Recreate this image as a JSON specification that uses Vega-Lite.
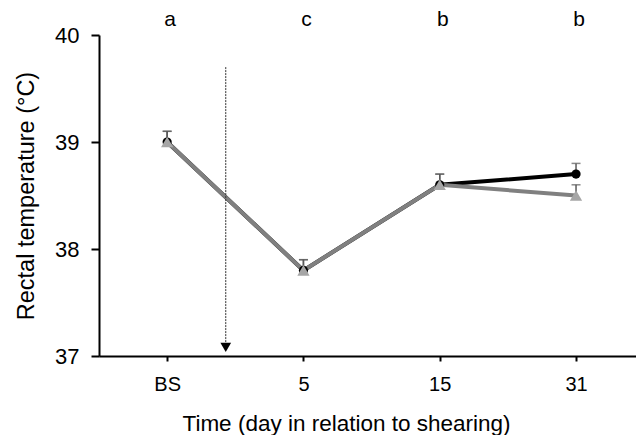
{
  "$schema": "https://vega.github.io/schema/vega-lite/v6.json",
  "width": 537,
  "height": 321,
  "autosize": {"type": "none"},
  "padding": {"left": 99, "top": 35, "right": 0, "bottom": 79},
  "background": "white",
  "config": {
    "view": {"stroke": null},
    "font": "Liberation Sans",
    "axis": {
      "grid": false,
      "domainColor": "black",
      "domainWidth": 2,
      "tickColor": "black",
      "tickWidth": 2,
      "labelColor": "black",
      "titleColor": "black",
      "labelFont": "Liberation Sans",
      "titleFont": "Liberation Sans",
      "labelFontSize": 20,
      "titleFontSize": 22,
      "titleFontWeight": "normal"
    }
  },
  "datasets": {
    "temps": [
      {"pos": 0, "time": "BS", "group": "Group 1", "temp": 39.0, "upper": 39.1},
      {"pos": 1, "time": "5", "group": "Group 1", "temp": 37.8, "upper": 37.9},
      {"pos": 2, "time": "15", "group": "Group 1", "temp": 38.6, "upper": 38.7},
      {"pos": 3, "time": "31", "group": "Group 1", "temp": 38.7, "upper": 38.8},
      {"pos": 0, "time": "BS", "group": "Group 2", "temp": 39.0, "upper": 39.1},
      {"pos": 1, "time": "5", "group": "Group 2", "temp": 37.8, "upper": 37.9},
      {"pos": 2, "time": "15", "group": "Group 2", "temp": 38.6, "upper": 38.7},
      {"pos": 3, "time": "31", "group": "Group 2", "temp": 38.5, "upper": 38.6}
    ],
    "letters": [
      {"pos": 0, "letter": "a"},
      {"pos": 1, "letter": "c"},
      {"pos": 2, "letter": "b"},
      {"pos": 3, "letter": "b"}
    ],
    "shearing": [
      {"pos": 0.43, "top": 39.7, "bottom": 37.08}
    ]
  },
  "layer": [
    {
      "data": {"name": "temps"},
      "mark": {"type": "rule", "color": "#595959", "strokeWidth": 1.5},
      "encoding": {
        "x": {
          "field": "pos", "type": "quantitative",
          "scale": {"domain": [-0.5, 3.44], "nice": false, "zero": false},
          "axis": {
            "values": [0, 1, 2, 3],
            "labelExpr": "['BS', '5', '15', '31'][datum.value]",
            "title": "Time (day in relation to shearing)",
            "titleFontSize": 22.5,
            "titleX": 247,
            "tickSize": 5,
            "labelPadding": 13,
            "titlePadding": 18
          }
        },
        "y": {
          "field": "temp", "type": "quantitative",
          "scale": {"domain": [37, 40], "nice": false, "zero": false},
          "axis": {
            "values": [37, 38, 39, 40],
            "format": "d",
            "labelFontSize": 22,
            "title": "Rectal temperature (°C)",
            "titleFontSize": 23.5,
            "tickSize": 8,
            "labelPadding": 12,
            "titlePadding": 16
          }
        },
        "y2": {"field": "upper"}
      }
    },
    {
      "data": {"name": "temps"},
      "mark": {"type": "tick", "orient": "horizontal", "color": "#595959", "thickness": 1.5, "size": 9},
      "encoding": {
        "x": {"field": "pos", "type": "quantitative", "scale": {"domain": [-0.5, 3.44], "nice": false, "zero": false}},
        "y": {"field": "upper", "type": "quantitative", "scale": {"domain": [37, 40], "nice": false, "zero": false}}
      }
    },
    {
      "data": {"name": "temps"},
      "transform": [{"filter": "datum.group === 'Group 1'"}],
      "mark": {"type": "line", "color": "black", "strokeWidth": 4},
      "encoding": {
        "x": {"field": "pos", "type": "quantitative", "scale": {"domain": [-0.5, 3.44], "nice": false, "zero": false}},
        "y": {"field": "temp", "type": "quantitative", "scale": {"domain": [37, 40], "nice": false, "zero": false}}
      }
    },
    {
      "data": {"name": "temps"},
      "transform": [{"filter": "datum.group === 'Group 2'"}],
      "mark": {"type": "line", "color": "#808080", "strokeWidth": 4},
      "encoding": {
        "x": {"field": "pos", "type": "quantitative", "scale": {"domain": [-0.5, 3.44], "nice": false, "zero": false}},
        "y": {"field": "temp", "type": "quantitative", "scale": {"domain": [37, 40], "nice": false, "zero": false}}
      }
    },
    {
      "data": {"name": "temps"},
      "transform": [{"filter": "datum.group === 'Group 1'"}],
      "mark": {"type": "point", "shape": "circle", "filled": true, "color": "black", "opacity": 1, "size": 85},
      "encoding": {
        "x": {"field": "pos", "type": "quantitative", "scale": {"domain": [-0.5, 3.44], "nice": false, "zero": false}},
        "y": {"field": "temp", "type": "quantitative", "scale": {"domain": [37, 40], "nice": false, "zero": false}}
      }
    },
    {
      "data": {"name": "temps"},
      "transform": [{"filter": "datum.group === 'Group 2'"}],
      "mark": {"type": "point", "shape": "triangle-up", "filled": true, "color": "#a6a6a6", "opacity": 1, "size": 150},
      "encoding": {
        "x": {"field": "pos", "type": "quantitative", "scale": {"domain": [-0.5, 3.44], "nice": false, "zero": false}},
        "y": {"field": "temp", "type": "quantitative", "scale": {"domain": [37, 40], "nice": false, "zero": false}}
      }
    },
    {
      "data": {"name": "letters"},
      "mark": {"type": "text", "font": "Liberation Sans", "fontSize": 21, "color": "black", "baseline": "middle", "align": "center", "dx": 3},
      "encoding": {
        "x": {"field": "pos", "type": "quantitative", "scale": {"domain": [-0.5, 3.44], "nice": false, "zero": false}},
        "y": {"datum": 40.14, "type": "quantitative", "scale": {"domain": [37, 40], "nice": false, "zero": false}},
        "text": {"field": "letter"}
      }
    },
    {
      "data": {"name": "shearing"},
      "mark": {"type": "rule", "color": "#333333", "strokeWidth": 1, "strokeDash": [2, 1]},
      "encoding": {
        "x": {"field": "pos", "type": "quantitative", "scale": {"domain": [-0.5, 3.44], "nice": false, "zero": false}},
        "y": {"field": "top", "type": "quantitative", "scale": {"domain": [37, 40], "nice": false, "zero": false}},
        "y2": {"field": "bottom"}
      }
    },
    {
      "data": {"name": "shearing"},
      "mark": {"type": "point", "shape": "triangle-down", "filled": true, "color": "black", "opacity": 1, "size": 115},
      "encoding": {
        "x": {"field": "pos", "type": "quantitative", "scale": {"domain": [-0.5, 3.44], "nice": false, "zero": false}},
        "y": {"field": "bottom", "type": "quantitative", "scale": {"domain": [37, 40], "nice": false, "zero": false}}
      }
    }
  ]
}
